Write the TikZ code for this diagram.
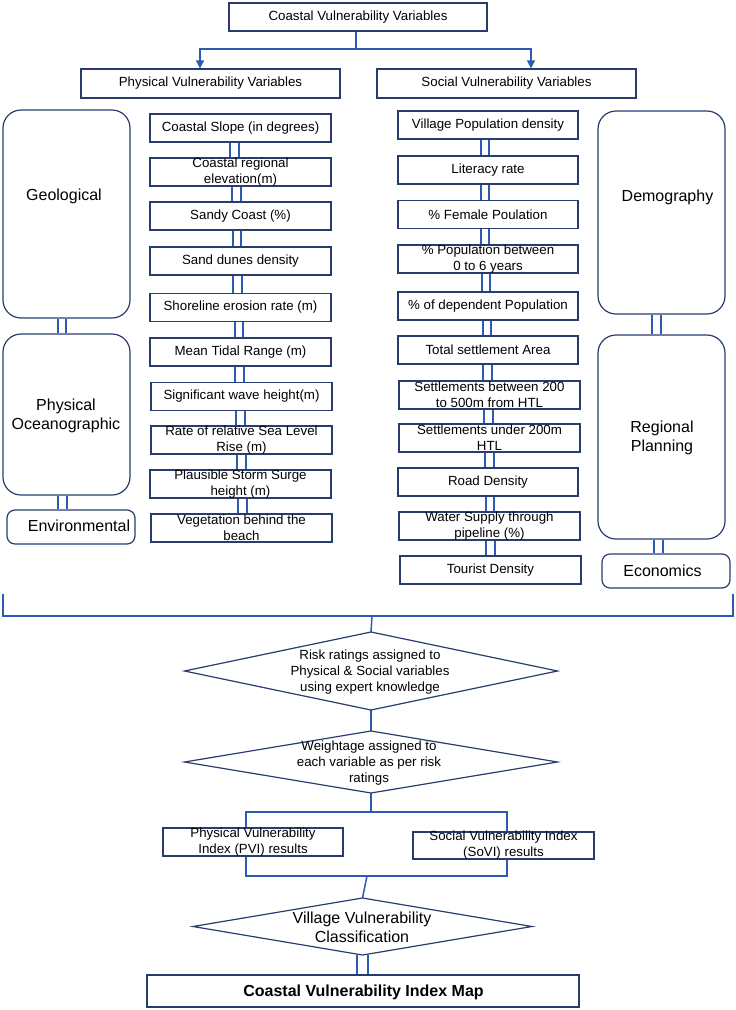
\documentclass[tikz,border=0pt]{standalone}
\usepackage{fontspec}
\setmainfont{Liberation Sans}
\usetikzlibrary{arrows.meta,shapes.geometric,calc}
\pgfdeclarelayer{bg}
\pgfsetlayers{bg,main}
\definecolor{navy}{RGB}{40,60,110}
\definecolor{lnk}{RGB}{45,90,180}
\tikzset{
  vb/.style={draw=navy, line width=1.2pt, fill=white, rectangle, inner sep=0pt, minimum height=28pt},
  rb/.style={vb, rounded corners=18pt},
  sb/.style={vb, rounded corners=8pt},
  tx/.style={font=\fontsize{13.3}{16}\selectfont, align=center, inner sep=0pt},
  bigtx/.style={font=\fontsize{16}{19}\selectfont, align=center, inner sep=0pt},
  conn/.style={draw=lnk, line width=1.5pt},
  dbl/.style={draw=lnk, line width=1.9pt, double=white, double distance=6.5pt},
  dia/.style={diamond, draw=navy, line width=1.2pt, fill=white, inner sep=0pt, outer sep=0pt},
  tip/.style={-{Triangle[width=8pt,length=8pt]}}
}
\newcommand\dlink[3]{\draw[dbl] ($(#1.south)+(#3,0)$) -- ($(#1.south |- #2.north)+(#3,0)$);}
\newcommand\bx[6]{\node[vb, minimum width=#4pt, minimum height=#5pt] (#1) at (#2,#3) {};
  \node[tx] (#1t) at (#1.center) {#6};}
\begin{document}
\begin{tikzpicture}[x=1pt,y=-1pt]
\useasboundingbox (0,0) rectangle (736,1010);

% top
\bx{top}{358}{17}{258}{28}{Coastal Vulnerability Variables}
\bx{phys}{210.5}{83.5}{259}{29}{Physical Vulnerability Variables}
\bx{soc}{506.5}{83.5}{259}{29}{Social Vulnerability Variables}

% left big boxes
\node[rb, minimum width=127pt, minimum height=208pt] (geo) at (66.5,214) {};
\node[bigtx] (geot) at (64,196) {Geological};
\node[rb, minimum width=127pt, minimum height=161pt] (po) at (66.5,414.5) {};
\node[bigtx] (pot) at (66,415.5) {Physical\\Oceanographic};
\node[sb, minimum width=128pt, minimum height=34pt] (env) at (71,527) {};
\node[bigtx] (envt) at (79,526) {Environmental};

% right big boxes
\node[rb, minimum width=127pt, minimum height=203pt] (dem) at (661.5,212.5) {};
\node[bigtx] (demt) at (667.5,197) {Demography};
\node[rb, minimum width=127pt, minimum height=204pt] (rp) at (661.5,437) {};
\node[bigtx] (rpt) at (662,437.5) {Regional\\Planning};
\node[sb, minimum width=128pt, minimum height=34pt] (eco) at (666,571) {};
\node[bigtx] (ecot) at (662.5,571) {Economics};

% physical column
\bx{p1}{240.5}{128}{181}{28}{Coastal Slope (in degrees)}
\bx{p2}{240.5}{172}{181}{28}{Coastal regional\\elevation(m)}
\bx{p3}{240.5}{216}{181}{28}{Sandy Coast (\%)}
\bx{p4}{240.5}{261}{181}{28}{Sand dunes density}
\bx{p5}{240.5}{307.5}{181}{28}{Shoreline erosion rate (m)}
\bx{p6}{240.5}{352}{181}{28}{Mean Tidal Range (m)}
\bx{p7}{241.5}{396.5}{181}{28}{Significant wave height(m)}
\bx{p8}{241.5}{440}{181}{28}{Rate of relative Sea Level\\Rise (m)}
\bx{p9}{240.5}{484}{181}{28}{Plausible Storm Surge\\height (m)}
\bx{p10}{241.5}{528}{181}{28}{Vegetation behind the\\beach}

% social column
\bx{s1}{488}{125}{180}{28}{Village Population density}
\bx{s2}{488}{170}{180}{28}{Literacy rate}
\bx{s3}{488}{214.5}{180}{28}{\% Female Poulation}
\bx{s4}{488}{259}{180}{28}{\% Population between\\0 to 6 years}
\bx{s5}{488}{306}{180}{28}{\% of dependent Population}
\bx{s6}{488}{350}{180}{28}{Total settlement Area}
\bx{s7}{489.5}{395}{181}{28}{Settlements between 200\\to 500m from HTL}
\bx{s8}{489.5}{438}{181}{28}{Settlements under 200m\\HTL}
\bx{s9}{488}{482}{180}{28}{Road Density}
\bx{s10}{489.5}{526}{181}{28}{Water Supply through\\pipeline (\%)}
\bx{s11}{490.5}{570}{181}{28}{Tourist Density}

% lower flow
\node[dia, minimum width=373pt, minimum height=78pt] (d1) at (371,671) {};
\node[tx] (d1t) at (370,672) {Risk ratings assigned to\\Physical \& Social variables\\using expert knowledge};
\node[dia, minimum width=373pt, minimum height=62pt] (d2) at (371,762) {};
\node[tx] (d2t) at (369,763) {Weightage assigned to\\each variable as per risk\\ratings};
\bx{pvi}{253}{842}{180}{28}{Physical Vulnerability\\Index (PVI) results}
\bx{sovi}{503.5}{845.5}{181}{27}{Social Vulnerability Index\\(SoVI) results}
\node[dia, minimum width=339pt, minimum height=57pt] (d3) at (362.5,926.5) {};
\node[bigtx] (d3t) at (362,927) {Village Vulnerability\\Classification};
\node[vb, minimum width=432pt, minimum height=32pt] (fin) at (363,991) {};
\node[font=\fontsize{16}{19}\selectfont\bfseries, inner sep=0pt] (fint) at (363.5,992) {Coastal Vulnerability Index Map};

\coordinate (j1) at (356,49);
\coordinate (bl) at (3,594);
\coordinate (br) at (733,594);
\coordinate (bm) at (372,616);
\coordinate (j2) at (371,812);
\coordinate (j3) at (367,876);

\begin{pgfonlayer}{bg}
  \draw[conn] ($(top.south)+(-2,0)$) -- (j1);
  \draw[conn,tip] (j1) -| ($(phys.north)+(-10.5,0)$);
  \draw[conn,tip] (j1) -| ($(soc.north)+(24.5,0)$);
  % physical column links
  \dlink{p1}{p2}{-6}
  \dlink{p2}{p3}{-4}
  \dlink{p3}{p4}{-3.5}
  \dlink{p4}{p5}{-3}
  \dlink{p5}{p6}{-1.5}
  \dlink{p6}{p7}{-1}
  \dlink{p7}{p8}{-1}
  \dlink{p8}{p9}{0}
  \dlink{p9}{p10}{2}
  % social column links
  \dlink{s1}{s2}{-3}
  \dlink{s2}{s3}{-3}
  \dlink{s3}{s4}{-3}
  \dlink{s4}{s5}{-2}
  \dlink{s5}{s6}{-1}
  \dlink{s6}{s7}{-0.5}
  \dlink{s7}{s8}{-1}
  \dlink{s8}{s9}{0}
  \dlink{s9}{s10}{2}
  \dlink{s10}{s11}{1}
  % side boxes
  \dlink{geo}{po}{-4.5}
  \dlink{po}{env}{-4}
  \dlink{dem}{rp}{-5}
  \dlink{rp}{eco}{-3}
  % bracket
  \draw[conn] (bl) |- (bm) -| (br);
  \draw[conn] (bm) -- (d1.north);
  \draw[conn] (d1.south) -- (d2.north);
  \draw[conn] (d2.south) -- (j2);
  \draw[conn] ($(pvi.north)+(-7,0)$) -- ($(pvi.north |- j2)+(-7,0)$) -- ($(sovi.north |- j2)+(3.5,0)$) -- ($(sovi.north)+(3.5,0)$);
  \draw[conn] ($(pvi.south)+(-7,0)$) -- ($(pvi.south |- j3)+(-7,0)$) -- ($(sovi.south |- j3)+(3.5,0)$) -- ($(sovi.south)+(3.5,0)$);
  \draw[conn] (j3) -- (d3.north);
  \draw[dbl, double distance=9pt] (d3.south) -- (d3.south |- fin.north);
\end{pgfonlayer}
\end{tikzpicture}
\end{document}
